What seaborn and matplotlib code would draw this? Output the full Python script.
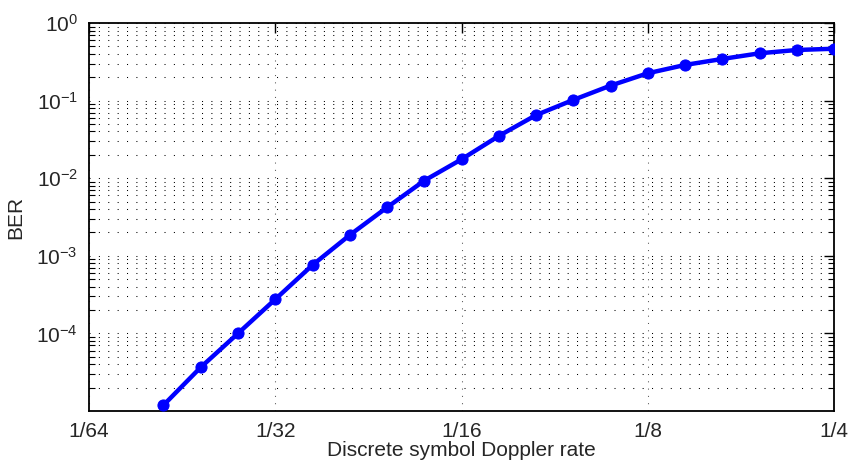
import matplotlib
matplotlib.use("Agg")
import matplotlib.pyplot as plt
import seaborn as sns
import numpy as np
import pandas as pd
from matplotlib.ticker import LogLocator, FixedLocator, NullFormatter

# Data
doppler_rate = [0.020617, 0.023683, 0.027205, 0.03125, 0.035897, 0.041235,
                0.047366, 0.054409, 0.0625, 0.071794, 0.082469, 0.094732,
                0.108819, 0.125, 0.143587, 0.164938, 0.189465, 0.217638, 0.25]
ber = [1.19e-5, 3.66e-5, 1.0e-4, 2.75e-4, 7.6e-4, 1.85e-3, 4.2e-3, 9.3e-3,
       1.75e-2, 3.5e-2, 6.5e-2, 0.102, 0.156, 0.225, 0.288, 0.344, 0.407,
       0.449, 0.466]

xtick_values = [1/64, 1/32, 1/16, 1/8, 1/4]
xtick_labels = ["1/64", "1/32", "1/16", "1/8", "1/4"]
ytick_values = [1e-4, 1e-3, 1e-2, 1e-1, 1e0]
ytick_labels = [r"$\mathregular{10^{-4}}$", r"$\mathregular{10^{-3}}$",
                r"$\mathregular{10^{-2}}$", r"$\mathregular{10^{-1}}$",
                r"$\mathregular{10^{0}}$"]

df = pd.DataFrame({"rate": doppler_rate, "BER": ber})

sns.set_style("white")
plt.rcParams["font.family"] = ["Liberation Sans", "DejaVu Sans"]
plt.rcParams["mathtext.fontset"] = "custom"
plt.rcParams["mathtext.rm"] = "Liberation Sans"

fig = plt.figure(figsize=(8.5, 4.68), dpi=100)
ax = fig.add_axes([89/850, 1 - 411/468, (834 - 89)/850, (411 - 23)/468])

ax.set_xscale("log", base=2)
ax.set_yscale("log")

sns.lineplot(data=df, x="rate", y="BER", ax=ax, color="#0000ff",
             linewidth=3.2, marker="o", markersize=8,
             markeredgecolor="#0000ff", markerfacecolor="#0000ff",
             zorder=3)

ax.set_xlim(1/64, 1/4)
ax.set_ylim(1e-5, 1)

ax.xaxis.set_major_locator(FixedLocator(xtick_values))
ax.set_xticklabels(xtick_labels)
ax.xaxis.set_minor_locator(FixedLocator([]))
ax.yaxis.set_major_locator(FixedLocator(ytick_values))
ax.set_yticklabels(ytick_labels)
ax.yaxis.set_minor_locator(LogLocator(base=10, subs=np.arange(2, 10), numticks=20))
ax.yaxis.set_minor_formatter(NullFormatter())

dot = (0, (1, 8))
ax.grid(True, which="major", axis="y", color="black", linestyle=dot, linewidth=0.75)
ax.grid(True, which="minor", axis="y", color="black", linestyle=dot, linewidth=0.75)
ax.grid(True, which="major", axis="x", color="#555555", linestyle=(0, (1, 6)), linewidth=0.75)
ax.set_axisbelow(True)

ax.tick_params(axis="both", which="major", direction="in", length=7, width=1,
               top=True, right=True, labelsize=15, pad=8, color="black")
ax.tick_params(axis="y", which="minor", direction="in", length=4, width=0.8,
               left=True, right=True, color="black")
ax.tick_params(axis="x", which="major", pad=8)

for s in ax.spines.values():
    s.set_visible(True)
    s.set_color("black")
    s.set_linewidth(1.3)

ax.set_xlabel("Discrete symbol Doppler rate", fontsize=15, labelpad=0)
ax.set_ylabel("BER", fontsize=15, labelpad=8)

fig.savefig("out.png", dpi=100, facecolor="white")
